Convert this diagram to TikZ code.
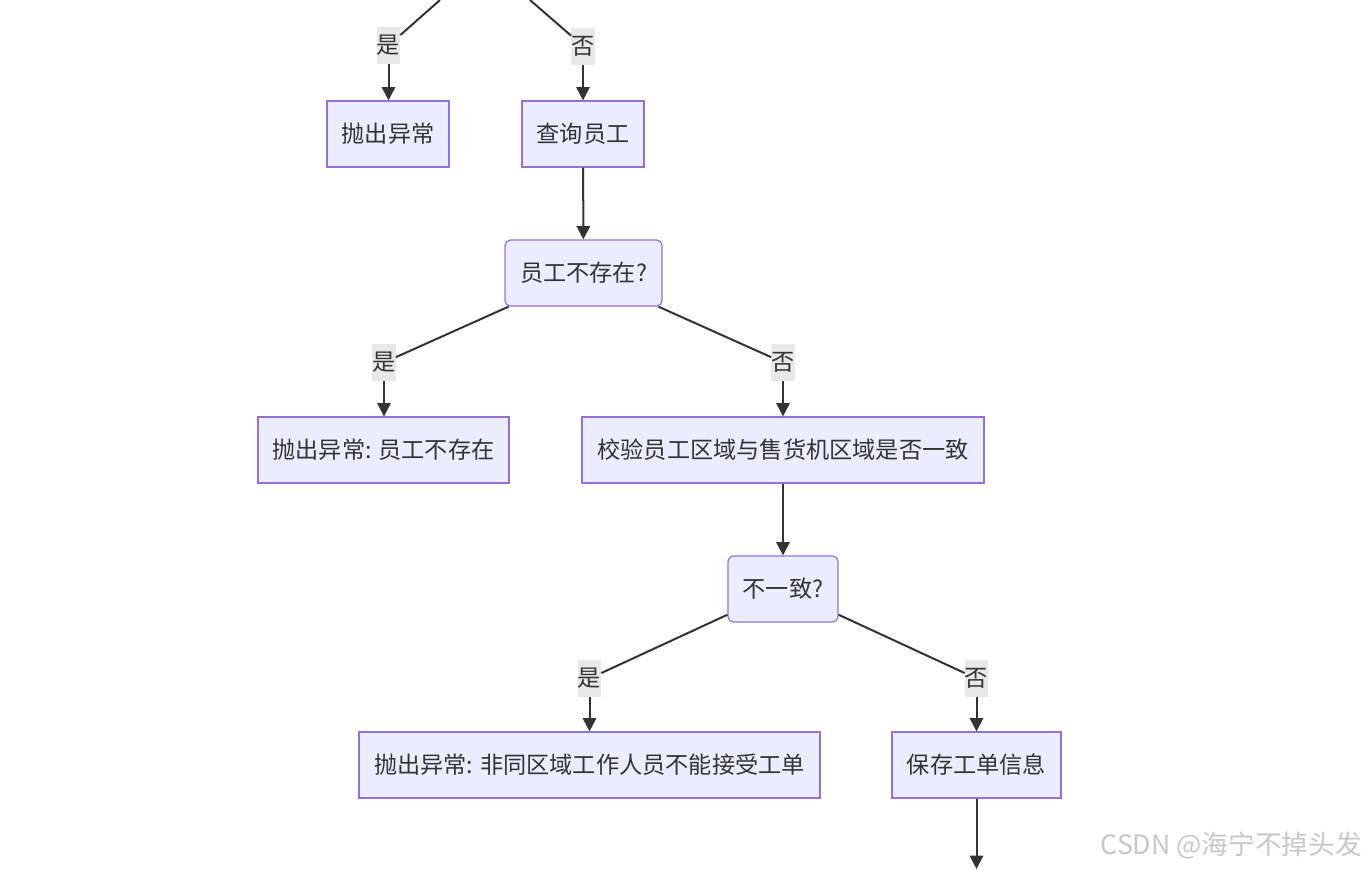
\documentclass[tikz,border=0pt]{standalone}
\usepackage{fontspec}
\setmainfont{Noto Sans CJK SC}
\usetikzlibrary{arrows.meta}
\definecolor{nodefill}{HTML}{ECECFF}
\definecolor{nodeline}{HTML}{9370DB}
\definecolor{edgeline}{HTML}{333333}
\definecolor{lblfill}{HTML}{E8E8E8}
\definecolor{wm}{HTML}{C8C8C8}
\tikzset{
  box/.style={draw=nodeline, fill=nodefill, line width=0.9pt, text=edgeline,
    font=\fontsize{17.4pt}{20pt}\selectfont, inner sep=0pt, minimum height=66*0.75pt},
  dec/.style={box, rounded corners=4pt},
  lbl/.style={fill=lblfill, text=edgeline, inner sep=0pt,
    minimum width=23*0.75pt, minimum height=37*0.75pt,
    font=\fontsize{17.4pt}{20pt}\selectfont},
  conn/.style={draw=edgeline, line width=1.5pt},
  arr/.style={conn, -{Triangle[length=10pt,width=10pt]}}
}
\begin{document}
\begin{tikzpicture}[x=0.75pt,y=-0.75pt]
\useasboundingbox (0,0) rectangle (1366,869);
% nodes
\node[box, minimum width=122*0.75pt] (A1) at (388,134) {抛出异常};
\node[box, minimum width=122*0.75pt] (Q) at (583,134) {查询员工};
\node[dec, minimum width=157*0.75pt] (D1) at (583.5,273) {员工不存在?};
\node[box, minimum width=251*0.75pt] (E1) at (383.5,450) {抛出异常: 员工不存在};
\node[box, minimum width=402*0.75pt] (V) at (783,450) {校验员工区域与售货机区域是否一致};
\node[dec, minimum width=110*0.75pt] (D2) at (783,589) {不一致?};
\node[box, minimum width=461*0.75pt] (E2) at (589.5,765) {抛出异常: 非同区域工作人员不能接受工单};
\node[box, minimum width=169*0.75pt] (S) at (976.5,765) {保存工单信息};
% labels
\node[lbl] (L0y) at (388.5,45.5) {是};
\node[lbl] (L0n) at (583,46) {否};
\node[lbl] (L1y) at (384,362.5) {是};
\node[lbl] (L1n) at (783,362.5) {否};
\node[lbl] (L2y) at (589.5,678.5) {是};
\node[lbl] (L2n) at (976.5,678.5) {否};
% off-image coordinates
\coordinate (T1) at (440,0);
\coordinate (T2) at (530,0);
\coordinate (B1) at (976.5,869);
% edges
\draw[conn] (T1) -- (L0y);
\draw[arr] (L0y.south) -- (L0y.south |- A1.north);
\draw[conn] (T2) -- (L0n);
\draw[arr] (L0n.south) -- (L0n.south |- Q.north);
\draw[arr] (Q) -- (D1);
\draw[conn] (D1) -- (L1y);
\draw[arr] (L1y.south) -- (L1y.south |- E1.north);
\draw[conn] (D1) -- (L1n);
\draw[arr] (L1n.south) -- (L1n.south |- V.north);
\draw[arr] (V) -- (D2);
\draw[conn] (D2) -- (L2y);
\draw[arr] (L2y.south) -- (L2y.south |- E2.north);
\draw[conn] (D2) -- (L2n);
\draw[arr] (L2n.south) -- (L2n.south |- S.north);
\draw[arr] (S) -- (B1);
% watermark
\node[text=wm, anchor=east, font=\fontsize{20pt}{24pt}\selectfont, inner sep=0pt] (WM) at (1362,846) {CSDN @海宁不掉头发};
\end{tikzpicture}
\end{document}
